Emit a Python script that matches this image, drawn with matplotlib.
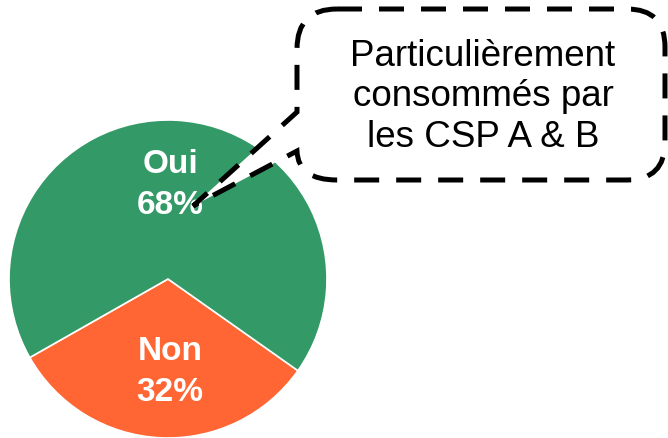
import numpy as np
import matplotlib.pyplot as plt
from matplotlib.path import Path
from matplotlib.patches import PathPatch

plt.rcParams['font.family'] = ['Liberation Sans', 'DejaVu Sans']

labels = ['Non', 'Oui']
values = [32, 68]
colors = ['#FF6633', '#339966']
note = "Particulièrement\nconsommés par\nles CSP A & B"

W, H = 668, 439
fig = plt.figure(figsize=(W / 100, H / 100), dpi=100)
ax = fig.add_axes([0, 0, 1, 1])

# pie in pixel coords (y up)
cx, cy, r = 168, H - 280, 159
wedges, _ = ax.pie(values, colors=colors, startangle=209.6, counterclock=True,
                   center=(cx, cy), radius=r,
                   wedgeprops=dict(edgecolor='white', linewidth=1.2))

# labels inside wedges (above / below centre)
for w, lab, v in zip(wedges, labels, values):
    ang = np.deg2rad((w.theta1 + w.theta2) / 2)
    d = 0.6 * r if lab == 'Oui' else 0.58 * r
    y = cy + d * np.sign(np.sin(ang))
    ax.text(cx + 2, y, f"{lab}\n{v}%", ha='center', va='center', color='white',
            fontsize=24, fontweight='bold', linespacing=1.42)

# callout bubble (pixel coords, y down -> flipped)
pts = [
    ((337, 10), Path.MOVETO),
    ((627, 10), Path.LINETO),
    ((665, 10), Path.CURVE3), ((665, 48), Path.CURVE3),
    ((665, 143), Path.LINETO),
    ((665, 181), Path.CURVE3), ((627, 181), Path.CURVE3),
    ((337, 181), Path.LINETO),
    ((298, 181), Path.CURVE3), ((297, 152), Path.CURVE3),
    ((193, 207), Path.LINETO),
    ((297, 113), Path.LINETO),
    ((297, 50), Path.LINETO),
    ((297, 10), Path.CURVE3), ((337, 10), Path.CURVE3),
    ((337, 10), Path.CLOSEPOLY),
]
verts = [(x, H - y) for (x, y), _ in pts]
codes = [c for _, c in pts]
bubble = PathPatch(Path(verts, codes), facecolor='white', edgecolor='black',
                   linewidth=3.6, linestyle=(0, (5, 3.4)), zorder=5)
ax.add_patch(bubble)
ax.text(483, H - 97, note, ha='center', va='center', fontsize=26.5,
        color='black', linespacing=1.2, zorder=6)

ax.set_xlim(0, W)
ax.set_ylim(0, H)
ax.set_aspect('equal')
ax.axis('off')

fig.savefig('out.png', dpi=100)
